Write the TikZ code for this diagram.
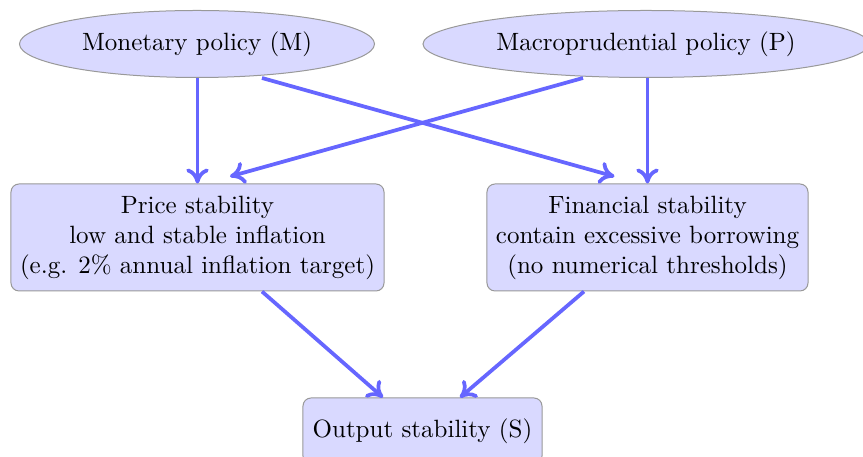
\documentclass[tikz,border=0pt]{standalone}
\usetikzlibrary{shapes.geometric,calc,arrows.meta}
\begin{document}
\begin{tikzpicture}[x=0.4pt,y=-0.4pt,
  ell/.style={ellipse, draw=black!40, fill=blue!15, inner sep=0pt, minimum height=26.8pt},
  box/.style={rectangle, rounded corners=3.2pt, draw=black!40, fill=blue!15, align=center, inner sep=0pt, minimum height=42.8pt},
  arr/.style={draw=blue!60, line width=1.5pt, -{To[length=6pt,width=9pt]}}]
\useasboundingbox (0,0) rectangle (863,457);
\node[ell, minimum width=142pt] (M) at (197,44) {Monetary policy (M)};
\node[ell, minimum width=178.4pt] (P) at (646,44) {Macroprudential policy (P)};
\node[box, minimum width=149.2pt] (PS) at (197.5,237.5) {Price stability\\low and stable inflation\\(e.g. 2\% annual inflation target)};
\node[box, minimum width=128.4pt] (FS) at (647.5,237.5) {Financial stability\\contain excessive borrowing\\(no numerical thresholds)};
\node[box, minimum width=95.6pt, minimum height=26.4pt] (OS) at (422.5,431) {Output stability (S)};
\draw[arr] (PS.north |- M.south) -- (PS.north);
\draw[arr] (FS.north |- P.south) -- (FS.north);
\draw[arr] ($(M.south)+(65,0)$) -- ($(FS.north)+(-33,-7)$);
\draw[arr] ($(P.south)+(-63,0)$) -- ($(PS.north)+(32.5,-7)$);
\draw[arr] ($(PS.south)+(64.5,0)$) -- ($(OS.north)+(-39.5,0)$);
\draw[arr] ($(FS.south)+(-63.5,0)$) -- ($(OS.north)+(37.5,0)$);
\end{tikzpicture}
\end{document}
